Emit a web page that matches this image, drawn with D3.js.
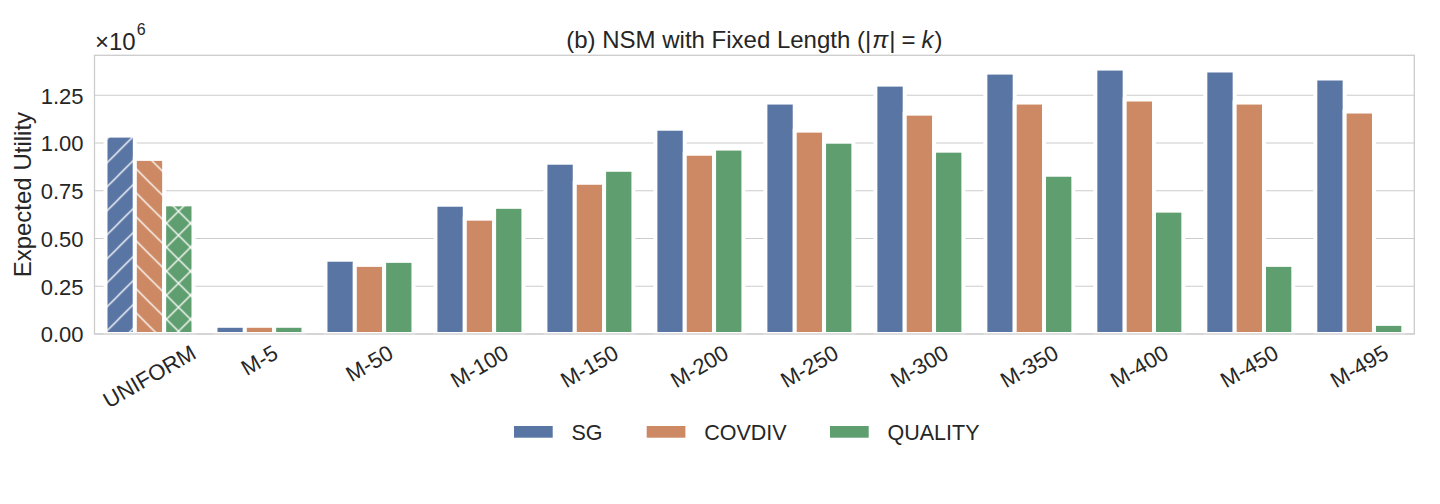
<!DOCTYPE html>
<html>
<head>
<meta charset="utf-8">
<script src="https://cdn.jsdelivr.net/npm/d3@7"></script>
<style>
  body { margin: 0; background: #fff; }
  svg { font-family: "Liberation Sans", Arial, sans-serif; }
  .axis text { fill: #262626; font-size: 22px; }
  .axis path, .axis line { display: none; }
</style>
</head>
<body>
<div id="chart-area"></div>
<script>
// values (x 1e6)
var categories = ["UNIFORM", "M-5", "M-50", "M-100", "M-150", "M-200", "M-250", "M-300", "M-350", "M-400", "M-450", "M-495"]
var sgValues      = [1.039, 0.043, 0.389, 0.677, 0.897, 1.075, 1.212, 1.306, 1.369, 1.390, 1.380, 1.338]
var covdivValues  = [0.917, 0.043, 0.362, 0.604, 0.792, 0.944, 1.065, 1.154, 1.212, 1.228, 1.212, 1.165]
var qualityValues = [0.679, 0.043, 0.383, 0.666, 0.860, 0.971, 1.007, 0.960, 0.834, 0.646, 0.362, 0.053]
var seriesNames = ["SG", "COVDIV", "QUALITY"]
var yTicks = [0, 0.25, 0.5, 0.75, 1.0, 1.25]

var colors = ["#5975a4", "#cc8963", "#5f9e6e"]
var hatches = ["fwd", "back", "cross"]   // only used on UNIFORM

var margin = { left: 94.5, right: 25.7, top: 55.3, bottom: 170 }
var width = 1440 - margin.left - margin.right,
    height = 504 - margin.top - margin.bottom

var svg = d3.select("#chart-area").append("svg")
    .attr("width", 1440)
    .attr("height", 504)

// hatch patterns (white lines)
var defs = svg.append("defs")
var hs = 24
function addPattern(id, paths) {
  var p = defs.append("pattern")
    .attr("id", id)
    .attr("patternUnits", "userSpaceOnUse")
    .attr("width", hs).attr("height", hs)
  paths.forEach(function(d) {
    p.append("path").attr("d", d)
      .attr("stroke", "#fff").attr("stroke-width", 1.3).attr("fill", "none")
  })
}
var fwd = ["M0," + hs + " L" + hs + ",0", "M-6,6 L6,-6", "M" + (hs - 6) + "," + (hs + 6) + " L" + (hs + 6) + "," + (hs - 6)]
var back = ["M0,0 L" + hs + "," + hs, "M-6," + (hs - 6) + " L6," + (hs + 6), "M" + (hs - 6) + ",-6 L" + (hs + 6) + ",6"]
addPattern("fwd", fwd)
addPattern("back", back)
addPattern("cross", fwd.concat(back))

var g = svg.append("g")
    .attr("transform", "translate(" + margin.left + "," + margin.top + ")")

var series = [sgValues, covdivValues, qualityValues]
var data = []
categories.forEach(function(c, i) {
  seriesNames.forEach(function(s, j) {
    data.push({ cat: c, series: s, idx: j, value: series[j][i] * 1e6 })
  })
})

// seaborn style: each group takes 0.8 of the category slot
var x = d3.scaleBand()
  .domain(categories)
  .range([0, width])
var xInner = d3.scaleBand()
  .domain(seriesNames)
  .range([x.bandwidth() * 0.1, x.bandwidth() * 0.9])

var y = d3.scaleLinear()
  .domain([0, d3.max(data, function(d) { return d.value }) * 1.05])
  .range([height, 0])

// grid
g.append("g").selectAll("line")
  .data(yTicks)
  .enter().append("line")
    .attr("x1", 0).attr("x2", width)
    .attr("y1", function(d) { return y(d * 1e6) })
    .attr("y2", function(d) { return y(d * 1e6) })
    .attr("stroke", "#cccccc")
    .attr("stroke-width", 1.1)

// bars
var bars = g.append("g").selectAll("g.bar")
  .data(data)
  .enter().append("g")
    .attr("class", "bar")

bars.append("rect")
  .attr("x", function(d) { return x(d.cat) + xInner(d.series) })
  .attr("width", xInner.bandwidth())
  .attr("y", function(d) { return y(d.value) })
  .attr("height", function(d) { return height - y(d.value) })
  .attr("fill", function(d) { return colors[d.idx] })

bars.filter(function(d) { return d.cat === "UNIFORM" })
  .append("rect")
    .attr("x", function(d) { return x(d.cat) + xInner(d.series) })
    .attr("width", xInner.bandwidth())
    .attr("y", function(d) { return y(d.value) })
    .attr("height", function(d) { return height - y(d.value) })
    .attr("fill", function(d) { return "url(#" + hatches[d.idx] + ")" })

// white bar edges
bars.append("rect")
  .attr("x", function(d) { return x(d.cat) + xInner(d.series) })
  .attr("width", xInner.bandwidth())
  .attr("y", function(d) { return y(d.value) })
  .attr("height", function(d) { return height - y(d.value) })
  .attr("fill", "none")
  .attr("stroke", "#fff")
  .attr("stroke-width", 4)

// frame
g.append("rect")
  .attr("width", width).attr("height", height)
  .attr("fill", "none")
  .attr("stroke", "#cccccc")
  .attr("stroke-width", 1.3)

// y axis
var yAxisCall = d3.axisLeft(y)
  .tickValues(yTicks.map(function(d) { return d * 1e6 }))
  .tickFormat(function(d) { return d3.format(".2f")(d / 1e6) })
  .tickSize(0)
  .tickPadding(11)
g.append("g").attr("class", "y axis").call(yAxisCall)
  .selectAll("text").attr("dy", "0.36em")

// x labels, rotated 30 deg, box centred under the tick
var xl = g.append("g").attr("class", "x axis")
xl.selectAll("text")
  .data(categories)
  .enter().append("text")
    .attr("text-anchor", "middle")
    .attr("dominant-baseline", "central")
    .text(function(d) { return d })
    .attr("transform", function(d) {
      var w = this.getComputedTextLength(), h = 16
      var boxH = w * 0.5 + h * 0.866
      return "translate(" + (x(d) + x.bandwidth() / 2) + "," + (height + 10 + boxH / 2) + ") rotate(-30)"
    })

// multiplier
var mult = svg.append("text")
  .attr("x", 95).attr("y", 50)
  .attr("fill", "#262626")
  .attr("font-size", "24px")
mult.append("tspan").text("\u00d710")
mult.append("tspan").attr("font-size", "16px").attr("dy", -15).attr("dx", 1).text("6")

// y label
svg.append("text")
  .attr("transform", "translate(" + 31 + "," + (margin.top + height / 2) + ") rotate(-90)")
  .attr("text-anchor", "middle")
  .attr("font-size", "24px")
  .attr("fill", "#262626")
  .text("Expected Utility")

// title
var title = svg.append("text")
  .attr("x", margin.left + width / 2)
  .attr("y", 48)
  .attr("text-anchor", "middle")
  .attr("font-size", "24px")
  .attr("fill", "#262626")
title.append("tspan").text("(b) NSM with Fixed Length (|")
title.append("tspan").attr("font-style", "italic").attr("dx", 1).text("\u03c0")
title.append("tspan").attr("dx", 1).text("|")
title.append("tspan").attr("dx", 6).text("=")
title.append("tspan").attr("font-style", "italic").attr("dx", 6).text("k")
title.append("tspan").attr("dx", 1).text(")")

// legend
var legendX = [514, 646.7, 830]
var legend = svg.append("g")
legend.selectAll("rect")
  .data(seriesNames)
  .enter().append("rect")
    .attr("x", function(d, i) { return legendX[i] })
    .attr("y", 426)
    .attr("width", 38.7).attr("height", 11.7)
    .attr("fill", function(d, i) { return colors[i] })
legend.selectAll("text")
  .data(seriesNames)
  .enter().append("text")
    .attr("x", function(d, i) { return legendX[i] + 57.5 })
    .attr("y", 432)
    .attr("dy", "0.36em")
    .attr("font-size", "21.5px")
    .attr("fill", "#262626")
    .text(function(d) { return d })
</script>
</body>
</html>
